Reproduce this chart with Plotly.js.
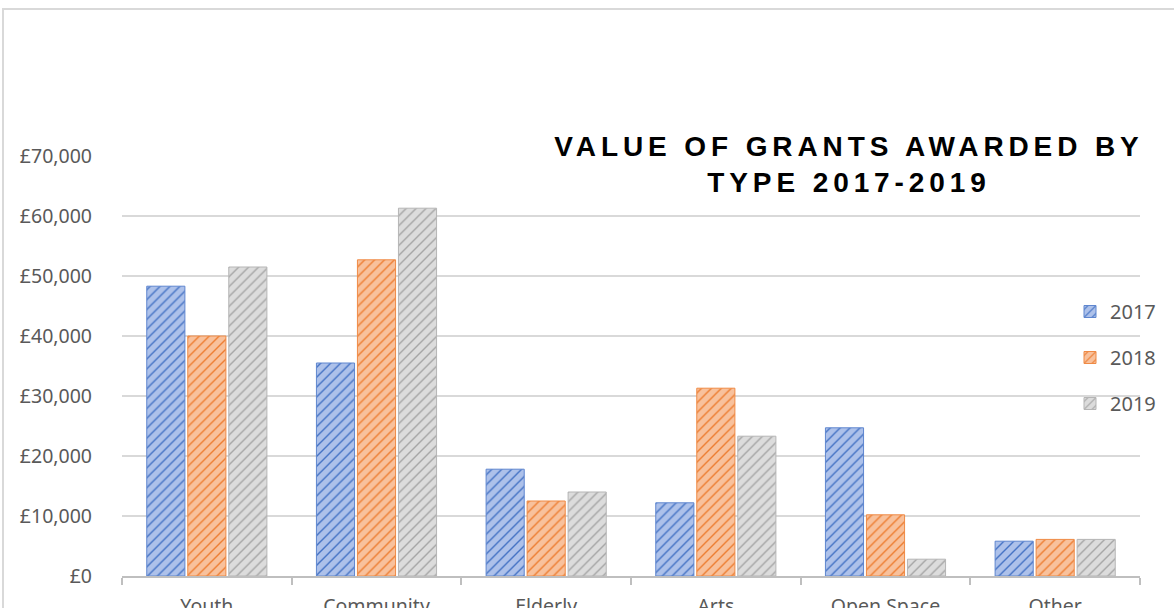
<!DOCTYPE html>
<html>
<head>
<meta charset="utf-8">
<script src="https://cdn.plot.ly/plotly-3.0.1.min.js"></script>
<style>
  html, body { margin: 0; padding: 0; background: #fff; }
  #wrap { position: relative; width: 1174px; height: 608px; overflow: hidden; }
  #chart { width: 1174px; height: 608px; }
  #frame { position: absolute; left: 2px; top: 8px; width: 1200px; height: 700px;
           border-left: 2px solid #d9d9d9; border-top: 2px solid #d9d9d9; pointer-events: none; }
  .gtitle { letter-spacing: 4.9px; }
</style>
</head>
<body>
<div id="wrap">
  <div id="chart"></div>
  <div id="frame"></div>
</div>
<script>
const categories = ["Youth", "Community", "Elderly", "Arts", "Open Space", "Other"];
const seriesNames = ["2017", "2018", "2019"];
const values2017 = [48300, 35500, 17800, 12200, 24700, 5800];
const values2018 = [40000, 52700, 12500, 31300, 10200, 6100];
const values2019 = [51500, 61300, 14000, 23300, 2800, 6100];
const yTickVals = [0, 10000, 20000, 30000, 40000, 50000, 60000, 70000];
const yTickText = ["£0", "£10,000", "£20,000", "£30,000", "£40,000", "£50,000", "£60,000", "£70,000"];

const styles = [
  { fg: "#4472c4", bg: "#adc1ea", line: "#5f86cf" },
  { fg: "#ed7d31", bg: "#f8c19c", line: "#ef8a45" },
  { fg: "#a5a5a5", bg: "#dcdcdc", line: "#b5b5b5" }
];
const allValues = [values2017, values2018, values2019];

const traces = seriesNames.map((name, i) => ({
  type: "bar",
  name: name,
  legendgroup: "g" + i,
  x: categories,
  y: allValues[i],
  marker: {
    color: styles[i].fg,
    line: { color: styles[i].line, width: 1 },
    pattern: { shape: "/", fillmode: "replace", fgcolor: styles[i].fg, bgcolor: styles[i].bg, size: 7, solidity: 0.2 }
  },
  hoverinfo: "x+y+name"
}));

const FONT = "Noto Sans, Open Sans, sans-serif";

const layout = {
  width: 1174,
  height: 608,
  paper_bgcolor: "#ffffff",
  plot_bgcolor: "#ffffff",
  margin: { l: 122, r: 34, t: 156, b: 32, pad: 0 },
  barmode: "group",
  bargap: 0.275,
  bargroupgap: 0.07,
  font: { family: FONT, size: 19.5, color: "#595959" },
  title: {
    text: "VALUE OF GRANTS AWARDED BY<br>TYPE 2017-2019",
    font: { family: "Liberation Sans, Arial, sans-serif", size: 28, color: "#000000", weight: "bold" },
    xref: "container", x: 849 / 1174, xanchor: "center",
    yref: "container", y: 1 - 156 / 608, yanchor: "top"
  },
  xaxis: {
    type: "category",
    showgrid: false,
    showline: true,
    linecolor: "#bfbfbf",
    linewidth: 2,
    ticks: "outside",
    tickson: "boundaries",
    ticklen: 7,
    tickwidth: 2,
    tickcolor: "#bfbfbf",
    ticklabelstandoff: 12,
    tickfont: { family: FONT, size: 19.5, color: "#595959" },
    automargin: false
  },
  yaxis: {
    range: [0, 70000],
    tickvals: yTickVals,
    ticktext: yTickText,
    showgrid: true,
    gridcolor: "#d9d9d9",
    gridwidth: 2,
    zeroline: false,
    showline: false,
    ticks: "",
    ticklabelstandoff: 29,
    tickfont: { family: FONT, size: 19.5, color: "#595959" },
    automargin: false
  },
  showlegend: true,
  legend: {
    xref: "paper", x: (1070 - 122) / 1018, xanchor: "left",
    yref: "paper", y: (576 - 292) / 420, yanchor: "top",
    traceorder: "grouped",
    tracegroupgap: 17,
    font: { family: FONT, size: 20, color: "#595959" },
    itemwidth: 30,
    bgcolor: "rgba(0,0,0,0)"
  }
};

Plotly.newPlot("chart", traces, layout, { displayModeBar: false, staticPlot: true });
</script>
</body>
</html>
